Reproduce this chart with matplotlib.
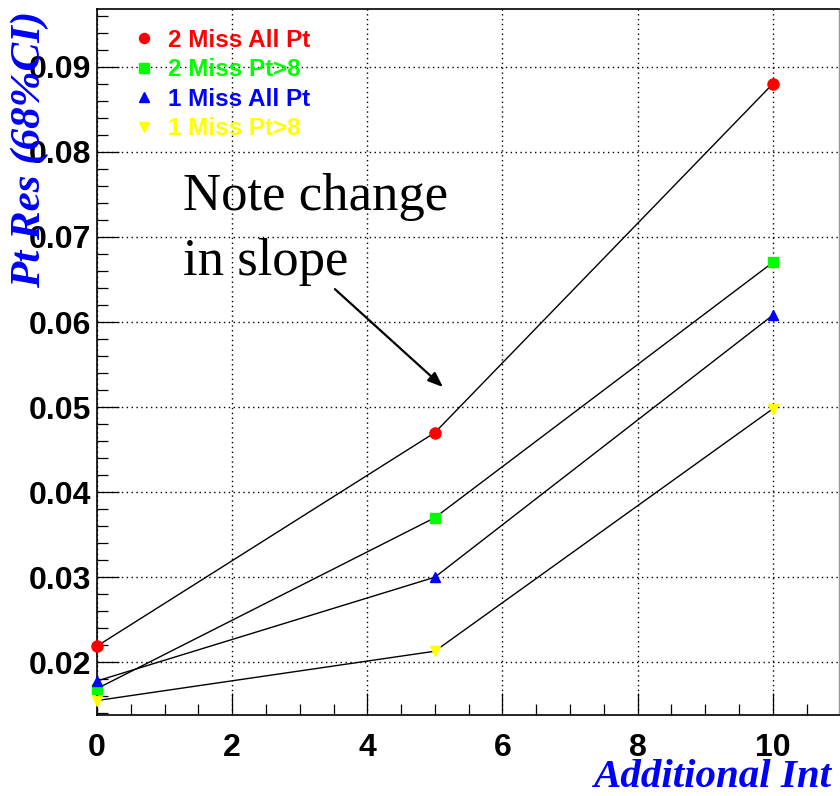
import numpy as np
import matplotlib
matplotlib.use('Agg')
import matplotlib.pyplot as plt
from matplotlib.ticker import MultipleLocator

# data
x_int = [0, 5, 10]
two_miss_all = [0.0219, 0.0470, 0.0880]
two_miss_pt8 = [0.0169, 0.0370, 0.0670]
one_miss_all = [0.0178, 0.0300, 0.0608]
one_miss_pt8 = [0.0155, 0.0213, 0.0498]

labels = ['2 Miss All Pt', '2 Miss Pt>8', '1 Miss All Pt', '1 Miss Pt>8']
series = [two_miss_all, two_miss_pt8, one_miss_all, one_miss_pt8]
colors = ['#ff0000', '#00ff00', '#0000ff', '#ffff00']
markers = ['o', 's', '^', 'v']
msizes = [8, 7.5, 7.5, 7.5]

plt.rcParams['font.family'] = ['Liberation Sans', 'DejaVu Sans']

fig = plt.figure(figsize=(8.4, 7.96), dpi=100)
ax = fig.add_axes([97 / 840, 81 / 796, 742 / 840, 706 / 796])

for ys, c, m, ms, lab in zip(series, colors, markers, msizes, labels):
    ax.plot(x_int, ys, color='black', lw=1.0, zorder=2)
    ax.plot(x_int, ys, ls='none', marker=m, ms=ms, color=c, mec=c,
            label=lab, zorder=3, clip_on=False)

ax.set_xlim(0, 10.98)
ax.set_ylim(0.0138, 0.0968)

ax.xaxis.set_major_locator(MultipleLocator(2))
ax.xaxis.set_minor_locator(MultipleLocator(0.5))
ax.yaxis.set_major_locator(MultipleLocator(0.01))
ax.yaxis.set_minor_locator(MultipleLocator(0.002))
ax.yaxis.set_major_formatter(plt.FuncFormatter(lambda v, p: f'{v:.2f}'))

ax.grid(True, which='major', color='black', ls=(0, (1, 2.5)), lw=1.0)
ax.set_axisbelow(True)

ax.tick_params(which='both', direction='in', top=False, right=False, width=0.9)
ax.tick_params(which='major', length=15.5)
ax.tick_params(which='minor', length=8)
ax.tick_params(axis='y', which='major', pad=4)
ax.tick_params(axis='x', which='major', pad=13)
for lbl in ax.get_xticklabels() + ax.get_yticklabels():
    lbl.set_fontsize(23)
    lbl.set_fontweight('bold')

for side in ['left', 'bottom', 'top']:
    ax.spines[side].set_linewidth(1.2)
ax.spines['right'].set_color('#999999')
ax.spines['right'].set_linewidth(1.0)

serif = ['Liberation Serif', 'DejaVu Serif']
ax.set_xlabel('Additional Int', family=serif, fontsize=29.5, fontweight='bold',
              style='italic', color='#0000ff', loc='right')
ax.xaxis.set_label_coords(0.99, -0.102)
ax.xaxis.label.set_va('baseline')
ax.set_ylabel('Pt Res (68%CI)', family=serif, fontsize=31, fontweight='bold',
              style='italic', color='#0000ff', loc='top')
ax.yaxis.set_label_coords(-0.065, 0.998)

leg = ax.legend(loc='upper left', bbox_to_anchor=(0.047, 0.972), frameon=False,
                numpoints=1, handlelength=1.0, handletextpad=0.5,
                borderpad=0, borderaxespad=0, labelspacing=0.27,
                prop={'family': 'Liberation Sans', 'weight': 'bold', 'size': 17.5},
                labelcolor='markerfacecolor', markerscale=0.9)

ax.text(1.27, 0.07315, 'Note change', family=serif, fontsize=38,
        color='black', va='baseline', ha='left')
ax.text(1.27, 0.06555, 'in slope', family=serif, fontsize=38,
        color='black', va='baseline', ha='left')
ax.annotate('', xy=(5.12, 0.05235), xytext=(3.52, 0.06387),
            arrowprops=dict(arrowstyle='-|>,head_length=0.9,head_width=0.35',
                            color='black', lw=1.6, shrinkA=0, shrinkB=0))

fig.savefig('out.png', dpi=100)
